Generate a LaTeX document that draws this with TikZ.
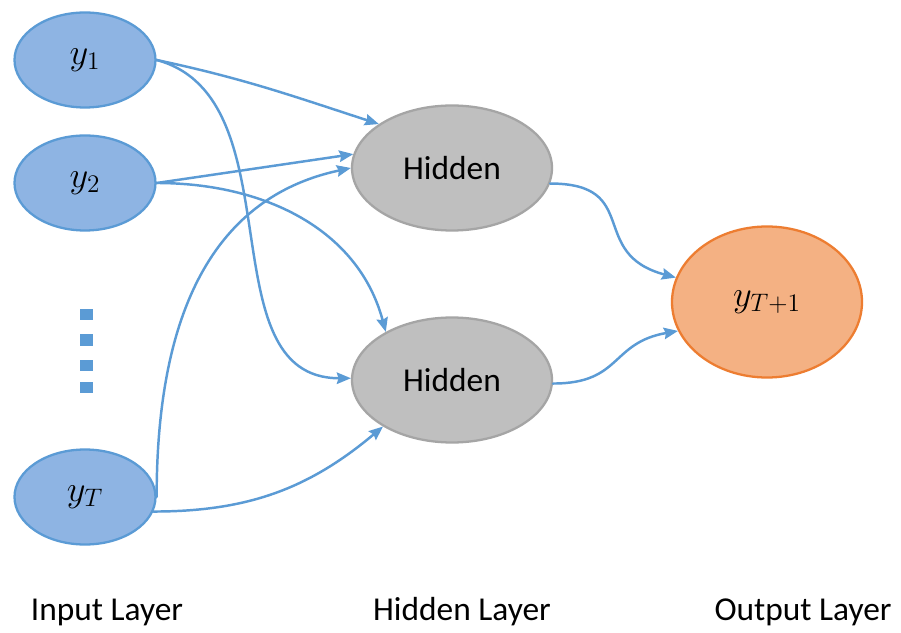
\documentclass[tikz,border=0pt]{standalone}
\usepackage{fontspec}
\setmainfont{Carlito}
\usetikzlibrary{arrows.meta,shapes.geometric}
\definecolor{netblue}{HTML}{5B9BD5}
\definecolor{netbluefill}{HTML}{8EB4E3}
\definecolor{hidline}{HTML}{A5A5A5}
\definecolor{hidfill}{HTML}{BFBFBF}
\definecolor{outline}{HTML}{ED7D31}
\definecolor{outfill}{HTML}{F4B183}

\begin{document}
\begin{tikzpicture}[>={Stealth[length=8pt,width=6.5pt,inset=1pt]},line cap=round,line join=round,
  font=\fontsize{19}{23}\selectfont,
  inunit/.style={ellipse,draw=netblue,fill=netbluefill,line width=1.3pt,inner sep=0pt,
    minimum width=2.82cm,minimum height=1.9cm,font=\fontsize{22}{26}\selectfont},
  hidunit/.style={ellipse,draw=hidline,fill=hidfill,line width=1.3pt,inner sep=0pt,
    minimum width=4cm,minimum height=2.5cm},
  outunit/.style={ellipse,draw=outline,fill=outfill,line width=1.3pt,inner sep=0pt,
    minimum width=3.8cm,minimum height=3.02cm,font=\fontsize{22}{26}\selectfont},
  link/.style={->,netblue,line width=1.4pt},
  layer/.style={inner sep=0pt}]
\path[use as bounding box] (0,0) rectangle (18.02,12.64);
\fill[white] (0,0) rectangle (18.02,12.64);

% input layer
\node[inunit] (y1) at (1.70,11.44) {$y_1$};
\node[inunit] (y2) at (1.70,8.98) {$y_2$};
\node[inunit] (yT) at (1.70,2.70) {$y_T$};
\foreach \y in {6.34,5.84,5.34,4.90}
  \fill[netblue] (1.60,\y-0.11) rectangle (1.85,\y+0.11);

% hidden layer and output
\node[hidunit] (h1) at (9.04,9.28) {Hidden};
\node[hidunit] (h2) at (9.04,5.04) {Hidden};
\node[outunit] (out) at (15.34,6.60) {$y_{T+1}$};

% input -> hidden
\draw[link] (y1.east) to[out=-12,in=162] (h1.149);
\draw[link] (y1.east) to[out=-15,in=180] (h2.179);
\draw[link] (y2.east) -- (h1.172);
\draw[link] (y2.east) to[out=0,in=105] (h2.144);
\draw[link] (yT.east) to[out=90,in=192,looseness=1.05] (h1.west);
\draw[link] (yT.-12) to[out=0,in=220] (h2.214);

% hidden -> output
\draw[link] (h1.-9) to[out=0,in=165,looseness=1.5] (out.165);
\draw[link] (h2.-2) to[out=0,in=190,looseness=1.3] (out.198);

% layer names
\node[layer] (inname) at (2.14,0.40) {Input Layer};
\node[layer] (hidname) at (9.24,0.40) {Hidden Layer};
\node[layer] (outname) at (16.06,0.40) {Output Layer};
\end{tikzpicture}
\end{document}
